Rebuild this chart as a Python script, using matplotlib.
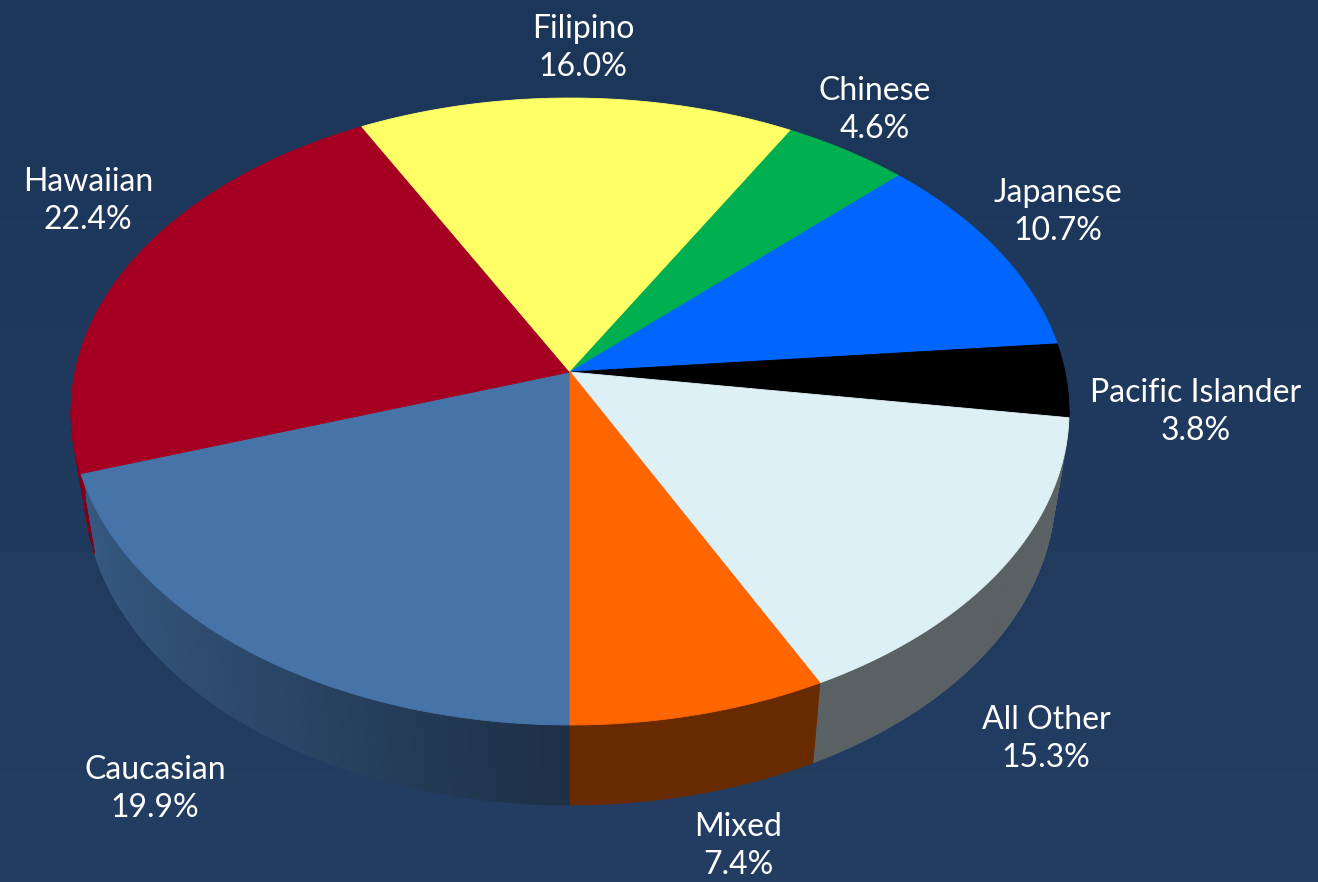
import numpy as np
import matplotlib
matplotlib.use('Agg')
import matplotlib.pyplot as plt
from matplotlib.patches import Polygon
from matplotlib.colors import to_rgb

plt.rcParams['font.family'] = ['Lato', 'DejaVu Sans']

# data (clockwise, first slice starts at 6 o'clock)
labels = ['Caucasian', 'Hawaiian', 'Filipino', 'Chinese', 'Japanese',
          'Pacific Islander', 'All Other', 'Mixed']
values = [19.9, 22.4, 16.0, 4.6, 10.7, 3.8, 15.3, 7.4]
colors = ['#4673a8', '#a50021', '#ffff66', '#00b050', '#0066ff',
          '#000000', '#ddf0f6', '#ff6600']

# label block centres (pixels)
label_pos = [(155, 789), (88, 201), (583, 48), (875, 110), (1058, 212),
             (1196, 412), (1046, 739), (738, 846)]

W, H = 1318, 882
fig = plt.figure(figsize=(W / 100, H / 100), dpi=100)
ax = fig.add_axes([0, 0, 1, 1])
ax.set_xlim(0, W)
ax.set_ylim(H, 0)
ax.axis('off')

# background, slight vertical gradient
top = np.array(to_rgb('#1c365a'))
bot = np.array(to_rgb('#243e63'))
g = np.linspace(0, 1, 256)[:, None, None]
bg = top * (1 - g) + bot * g
ax.imshow(np.repeat(bg, 2, axis=1), extent=(0, W, H, 0), aspect='auto', zorder=0)

# perspective ellipse
cx, cy = 570, 372
a, b, k = 495, 308.5, 0.126
depth = 80
sx = 0.972    # bottom rim is a bit narrower (perspective)
start = 180.0


def proj(t):
    t = np.radians(t)
    X = np.sin(t)
    Yd = -np.cos(t)
    den = 1 - k * Yd
    return cx + a * X / den, cy + b * Yd / den, X, Yd


vals = np.array(values)
angles = start + np.concatenate([[0], np.cumsum(vals / vals.sum() * 360)])

for i, col in enumerate(colors):
    t0, t1 = angles[i], angles[i + 1]
    ts = np.linspace(t0, t1, max(int((t1 - t0) * 3), 4))
    x, y, X, Yd = proj(ts)

    # top face
    pts = np.column_stack([np.r_[cx, x], np.r_[cy, y]])
    ax.add_patch(Polygon(pts, closed=True, facecolor=col, edgecolor=col,
                         lw=0.6, zorder=3))

    # front side
    base = np.array(to_rgb(col))
    xb = cx + (x - cx) * sx
    for j in range(len(ts) - 1):
        if Yd[j] < k and Yd[j + 1] < k:
            continue
        xm = 0.5 * (X[j] + X[j + 1])
        shade = 0.41 + 0.38 * max(0.0, -xm)
        c = np.clip(base * shade, 0, 1)
        quad = [(x[j], y[j]), (x[j + 1], y[j + 1]),
                (xb[j + 1], y[j + 1] + depth), (xb[j], y[j] + depth)]
        ax.add_patch(Polygon(quad, closed=True, facecolor=c, edgecolor=c,
                             lw=0.6, zorder=2))

# labels
for lab, v, (lx, ly) in zip(labels, values, label_pos):
    ax.text(lx, ly, f'{lab}\n{v:.1f}%', ha='center', va='center',
            color='white', fontsize=23, linespacing=1.35, zorder=5)

fig.savefig('out.png', dpi=100)
